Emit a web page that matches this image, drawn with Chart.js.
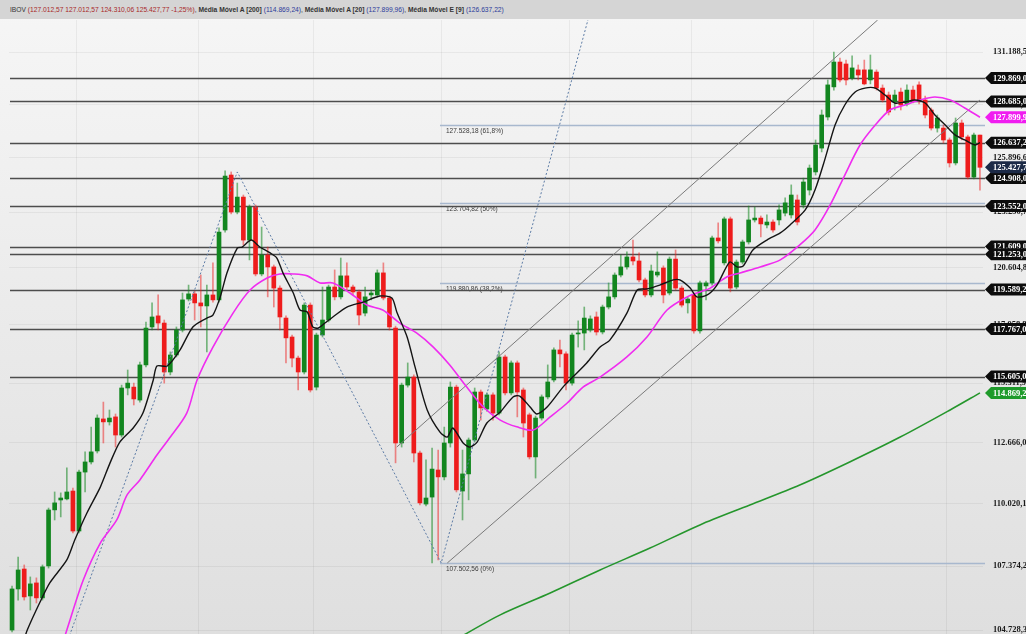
<!DOCTYPE html>
<html>
<head>
<meta charset="utf-8">
<script src="https://cdn.jsdelivr.net/npm/chart.js@4.4.1/dist/chart.umd.min.js"></script>
<style>
  body { margin: 0; background: #ebebeb; overflow: hidden; }
  #wrap { position: relative; width: 1026px; height: 634px; }
  #c { display: block; }
  #hdr {
    position: absolute; left: 0; top: 0; width: 1026px; height: 19px; z-index: 2;
    background: #d5d5d5; box-sizing: border-box; padding-left: 10px;
    font: 7.6px "Liberation Sans Narrow", sans-serif; line-height: 19px;
    white-space: nowrap; color: #333;
  }
  #hdr span.in { display: inline-block; transform: scaleX(0.88); transform-origin: 0 50%; }
  .r { color: #a82828; }
  .b { color: #2b3a9a; }
</style>
</head>
<body>
<div id="wrap">
  <div id="hdr"><span class="in" id="hdrText"></span></div>
  <canvas id="c" width="1026" height="634"></canvas>
</div>
<script>
// daily candles, oldest first
const opens = [104730,106420,107250,106130,106670,106050,107380,109750,110175,110220,
  110560,108850,111380,111820,112300,113710,113580,113800,113000,115090,
  115130,114550,116130,117860,118370,118040,115810,116580,117720,119150,
  119390,118970,118830,119340,119110,122400,125050,123260,123980,121920,
  123500,120320,121210,120650,119660,118270,117400,116440,115810,118870,
  115130,117490,118180,119710,119250,120230,119710,119480,118500,119340,
  119340,120370,119200,117810,112650,115220,115580,112210,110000,110300,
  111470,111170,112650,115130,110560,111300,112780,114910,114150,114780,
  113970,116490,114870,116220,115000,113890,112040,113750,114690,115450,
  116810,116630,115310,117540,117580,117720,118320,117630,118780,119250,
  120270,120650,121120,120930,120040,119340,120270,120600,119430,121020,
  119660,118970,119340,117680,119760,119900,122020,120840,122930,119710,
  120880,121830,122880,122970,122640,122780,122880,123210,123120,123840,
  123600,124320,125200,126370,127910,129420,130680,130580,129870,130280,
  130280,129770,130170,129360,129010,128660,129160,128560,129260,129520,
  128760,128260,127360,127360,126770,125640,127610,126920,124950,127012.57];
const highs = [106540,107750,107420,106920,106880,107420,109830,110520,110480,111560,
  110690,111470,112260,113350,113890,114460,114107,113930,115220,115900,
  115310,116260,118090,118970,119340,118180,116720,117860,119430,119800,
  119520,120270,119800,120840,122500,125250,125200,124660,124080,123600,
  123600,122540,121590,120740,119760,118370,117490,116530,118970,118970,
  117580,119710,119800,120510,121070,120840,119800,119570,119710,119570,
  120510,120840,119290,117900,115310,116220,115680,112300,111910,112430,
  112340,113350,115360,115220,112340,112870,115090,115000,114870,114870,
  116720,116580,116310,116310,115090,113970,113840,114780,116130,116900,
  117260,116720,117580,118140,118780,118370,118550,118870,119900,120370,
  121210,121360,121920,121310,120130,120740,121360,120700,121120,121450,
  119760,119250,119430,119990,119990,122110,122740,123020,123020,120980,
  121920,123550,123500,123070,123120,122880,123600,123940,124570,124080,
  124900,125540,126770,128260,129770,131190,130880,130780,130990,130530,
  130780,131040,130280,129520,129160,129260,129360,129520,129460,129670,
  128960,128360,128010,127510,126870,127860,127760,127010,127110,127012.57];
const lows = [104650,105960,105960,105550,105840,105960,107290,109320,109450,110180,
  108770,108770,110520,111730,112210,112650,113440,112470,112910,114780,
  114330,114460,116040,117720,117720,115310,115680,116490,117630,119060,
  118180,117860,116720,119010,119010,122300,123170,123170,121690,120980,
  120230,120230,119250,118780,117720,116220,116040,115000,115720,114910,
  115000,117400,118090,119110,119150,119570,119340,117950,118370,119110,
  119250,119110,117720,111780,112470,115130,111820,109960,109920,107502.56,
  107630,111040,112470,110520,109320,110180,112690,113660,114060,113660,
  113890,114780,114780,113800,112910,111950,111120,113660,114600,115360,
  116040,115000,115220,116940,116810,117630,117490,117540,118690,119150,
  120180,120550,120740,119950,119250,119250,120180,118970,119340,119570,
  118780,118500,117580,117580,119110,119800,121780,120740,119480,119620,
  120790,121730,122780,122070,122500,122300,122640,123070,122970,122640,
  123450,124080,125050,126180,127760,129260,129670,129520,129770,129770,
  129520,129570,129260,128660,128010,128260,128260,128460,128610,128560,
  127860,127260,127160,126620,125440,125540,126770,124860,124860,124310.06];
const closes = [106420,107210,106090,106630,106050,107340,109746,110050,110260,110520,
  108850,111380,111820,112260,113750,113580,113750,113000,115090,115310,
  114600,116130,117810,118320,118040,115810,116580,117720,119110,119390,
  118970,118830,119340,119110,122300,125000,123260,123980,121920,123500,
  120320,121210,120650,119660,118320,117360,116440,115810,118870,115000,
  117490,118180,119710,119250,120230,119710,119480,118410,119250,119430,
  120370,119200,117860,112650,115220,115580,112210,110050,110260,111510,
  111170,112650,115130,110610,111300,112780,114910,114200,114780,113970,
  116490,114870,116220,114910,113530,112040,113750,114690,115360,116810,
  116630,115310,117490,117580,118270,118230,117630,118780,119250,120270,
  120650,121120,120930,120040,119340,120460,120410,119340,121020,119660,
  118870,119150,117680,119900,119900,122020,121880,122930,119660,120880,
  121830,122880,122970,122690,122780,122400,123360,123700,124080,122780,
  124710,125390,126520,128010,129520,130680,129770,129770,130380,130020,
  129570,130280,129360,128760,128160,129010,128510,129260,128760,128760,
  128010,127360,127860,126770,125640,127610,126920,124950,127015,125427.77];

// indicators, [candle index, value]
const ma200 = [[72.8,104330],[80.2,105350],[88.4,106250],[96.6,107210],[104.8,108130],[113.0,109110],
  [121.2,109960],[129.4,110820],[137.6,111820],[145.9,112910],[154.1,114110],[159,114869.24]];
const ma20 = [[8.2,104120],[9.0,104730],[11.7,106790],[14.5,108340],[17.2,109320],[18.9,110390],[21.0,111040],
  [23.8,112120],[26.0,112910],[28.7,113970],[30.4,115450],[33.0,116940],[36.3,118500],[39.1,119570],
  [41.9,120130],[44.0,120320],[46.2,120320],[48.5,120230],[50.6,119900],[52.7,119900],[55.5,119430],
  [58.3,118870],[60.9,118640],[63.7,118040],[66.5,117580],[69.2,116940],[71.9,116130],[74.7,115130],
  [77.4,114240],[80.2,113660],[82.9,113360],[85.6,113220],[88.4,113800],[91.2,114420],[93.8,115130],
  [96.6,115580],[101.0,116490],[104.3,117400],[107.6,118640],[110.9,119250],[113.0,119480],[114.7,119660],
  [117.4,120180],[119.6,120370],[122.9,120650],[126.2,120980],[129.4,121690],[131.9,122400],[134.4,123600],
  [136.8,125050],[139.3,126520],[141.8,127510],[144.2,128260],[146.7,128510],[149.1,128760],[151.6,128910],
  [154.1,128760],[156.5,128360],[159,127899.96]];
const ema9 = [[1.8,104200],[2.5,104730],[4.6,105880],[6.2,106670],[9.0,107630],[10.3,108470],[12.3,109620],
  [14.5,110730],[16.1,111780],[17.7,112690],[19.9,113310],[21.5,113970],[23.2,115450],[23.8,116080],
  [25.5,116080],[27.6,116810],[29.7,117860],[32.0,118270],[33.0,118410],[34.2,119250],[35.3,120370],
  [37.0,121540],[37.8,121590],[39.3,121920],[40.7,121590],[42.4,121310],[43.5,121070],[44.5,120370],
  [46.2,119430],[47.3,118640],[48.5,118550],[49.4,117860],[50.3,117810],[51.4,118040],[52.7,118320],
  [55.0,118780],[57.7,119010],[60.4,119290],[62.4,119200],[63.2,118550],[64.9,117400],[66.2,116040],
  [68.2,114110],[70.3,113130],[71.5,112910],[72.4,113310],[74.1,112650],[75.2,112470],[76.4,112690],
  [78.0,113530],[80.2,114020],[82.3,114690],[83.4,114730],[85.1,114240],[86.2,113930],[87.9,114240],
  [90.5,115130],[92.1,115580],[94.4,116220],[96.6,116940],[98.2,117260],[101.0,118500],[102.7,119570],
  [104.3,119620],[106.4,119800],[108.6,120040],[109.7,120040],[111.4,119660],[112.5,119250],[114.2,119340],
  [115.8,119800],[117.9,120880],[119.1,120650],[120.1,120690],[121.7,121450],[124.0,121920],[126.2,122260],
  [127.8,122640],[130.3,123360],[131.9,124320],[133.5,125790],[135.2,127510],[136.8,128510],[138.5,129160],
  [140.1,129360],[141.8,129360],[143.4,129010],[145.0,128610],[146.7,128660],[148.3,128760],[150.0,128610],
  [151.6,128010],[153.3,127510],[154.9,127020],[156.5,126770],[158.2,126520],[159,126637.22]];

// drawn studies
const upperChannel = [[63.2,112470],[142.2,132840]];
const lowerChannel = [[71.5,107502.56],[159,128760]];
const fibPath = [[9.0,104200],[37.0,125200],[70.5,107502.56],[94.6,132840]];
const fibStart = 70.3;
const fibValues = [127528.18, 123704.82, 119880.86, 107502.56];
const fibNames = ['61,8%', '50%', '38,2%', '0%'];
const hLevels = [129869.00, 128685.00, 126637.22, 124908.00, 123552.00, 121609.00, 121253.00, 119589.20, 117767.00, 115605.00];

const yTicks = [104728.3, 107374.2, 110020.1, 112666.0, 115311.9, 117958.8, 120604.8, 123250.7, 125896.6, 128542.6, 131188.5];
const vGrid = [10.5, 30.5, 49.5, 70.5, 91.5, 111.5, 131.5, 153.5];
const yMin = 104568, yMax = 132838;

function fmt(v, d = 2) {
  const s = Math.abs(v).toFixed(d).split('.');
  return (v < 0 ? '-' : '') + s[0].replace(/\B(?=(\d{3})+(?!\d))/g, '.') + (s[1] ? ',' + s[1] : '');
}

const n = closes.length;
const last = n - 1;
const chg = (closes[last] / closes[last - 1] - 1) * 100;
document.getElementById('hdrText').innerHTML =
  'IBOV <span class="r">(' + fmt(opens[last]) + ' ' + fmt(highs[last]) + ' ' + fmt(lows[last]) + ' ' +
  fmt(closes[last]) + ' ' + fmt(chg) + '%)</span>, <b>Média Móvel A [200]</b> <span class="b">(' + fmt(ma200[ma200.length - 1][1]) +
  ')</span>, <b>Média Móvel A [20]</b> <span class="b">(' + fmt(ma20[ma20.length - 1][1]) +
  ')</span>, <b>Média Móvel E [9]</b> <span class="b">(' + fmt(ema9[ema9.length - 1][1]) + ')</span>';

const up = '#12861f', down = '#ee1c1c';
const bodyColors = closes.map((c, i) => c >= opens[i] ? up : down);
const wickColors = closes.map((c, i) => c >= opens[i] ? 'rgba(18,134,31,0.55)' : 'rgba(238,28,28,0.5)');
const pts = arr => arr.map(p => ({ x: p[0], y: p[1] }));

const tags = hLevels.map(v => ({ v, c: '#0c0c0c' })).concat([
  { v: closes[last], c: '#1c2a47' },
  { v: ma20[ma20.length - 1][1], c: '#f01cf0' },
  { v: ma200[ma200.length - 1][1], c: '#1e9a2a' }
]);

const studies = {
  id: 'studies',
  beforeDraw(chart) {
    const { ctx, width, height, chartArea: a, scales: { x } } = chart;
    const g = ctx.createLinearGradient(0, 0, 0, height);
    g.addColorStop(0, '#f6f6f6');
    g.addColorStop(1, '#dfdfdf');
    ctx.save();
    ctx.fillStyle = g;
    ctx.fillRect(0, 0, width, height);
    ctx.strokeStyle = 'rgba(0,0,0,0.05)';
    ctx.lineWidth = 1;
    vGrid.forEach(v => {
      const px = Math.round(x.getPixelForValue(v)) + 0.5;
      ctx.beginPath(); ctx.moveTo(px, a.top); ctx.lineTo(px, a.bottom); ctx.stroke();
    });
    ctx.restore();
  },
  beforeDatasetsDraw(chart) {
    const { ctx, chartArea: a, scales: { x, y } } = chart;
    ctx.save();
    ctx.lineWidth = 1.5;
    ctx.strokeStyle = '#a8b8ce';
    ctx.font = '6.5px "Liberation Sans Narrow", sans-serif';
    ctx.textBaseline = 'top';
    const fx = x.getPixelForValue(fibStart);
    fibValues.forEach((v, k) => {
      const py = Math.round(y.getPixelForValue(v)) + 0.5;
      ctx.beginPath(); ctx.moveTo(fx, py); ctx.lineTo(a.right + 2, py); ctx.stroke();
      ctx.fillStyle = '#3a3a3a';
      ctx.fillText(fmt(v) + ' (' + fibNames[k] + ')', fx + 6, py + 2);
    });
    ctx.strokeStyle = '#4d4d4d';
    ctx.lineWidth = 1.3;
    hLevels.forEach(v => {
      const py = Math.round(y.getPixelForValue(v)) + 0.5;
      ctx.beginPath(); ctx.moveTo(a.left + 1, py); ctx.lineTo(a.right + 2, py); ctx.stroke();
    });
    ctx.restore();
  },
  afterDraw(chart) {
    const { ctx, chartArea: a, scales: { y } } = chart;
    ctx.save();
    ctx.font = 'bold 8.5px "Liberation Serif", serif';
    ctx.textBaseline = 'middle';
    tags.forEach(t => {
      const py = y.getPixelForValue(t.v);
      const x0 = a.right + 2;
      ctx.beginPath();
      ctx.moveTo(x0, py);
      ctx.lineTo(x0 + 6, py - 6);
      ctx.lineTo(1026, py - 6);
      ctx.lineTo(1026, py + 6);
      ctx.lineTo(x0 + 6, py + 6);
      ctx.closePath();
      ctx.fillStyle = t.c;
      ctx.fill();
      ctx.fillStyle = '#ffffff';
      ctx.fillText(fmt(t.v), x0 + 8, py + 0.5);
    });
    ctx.restore();
  }
};

new Chart(document.getElementById('c'), {
  type: 'bar',
  data: {
    datasets: [
      { type: 'bar', data: opens.map((o, i) => ({ x: i, y: [lows[i], highs[i]] })), backgroundColor: wickColors,
        barThickness: 1, grouped: false, order: 7 },
      { type: 'bar', data: opens.map((o, i) => ({ x: i, y: [o, closes[i]] })), backgroundColor: bodyColors,
        barThickness: 4, minBarLength: 1, grouped: false, order: 6 },
      { type: 'line', data: pts(upperChannel), borderColor: '#7a7a7a', borderWidth: 1, pointRadius: 0, order: 5 },
      { type: 'line', data: pts(lowerChannel), borderColor: '#7a7a7a', borderWidth: 1, pointRadius: 0, order: 5 },
      { type: 'line', data: pts(fibPath), borderColor: '#5d7ca6', borderWidth: 1, borderDash: [2, 2], pointRadius: 0, order: 5 },
      { type: 'line', data: pts(ma200), borderColor: '#25962c', borderWidth: 1.6, pointRadius: 0, tension: 0.3, order: 3 },
      { type: 'line', data: pts(ma20), borderColor: '#f02cf0', borderWidth: 1.6, pointRadius: 0, tension: 0.3, order: 2 },
      { type: 'line', data: pts(ema9), borderColor: '#141414', borderWidth: 1.4, pointRadius: 0, tension: 0.25, order: 1 }
    ]
  },
  options: {
    responsive: false,
    animation: false,
    layout: { padding: { left: 9, top: 20, right: 0, bottom: 0 } },
    plugins: { legend: { display: false }, tooltip: { enabled: false } },
    scales: {
      x: { type: 'linear', min: -0.5, max: n - 0.5, offset: false, display: false },
      y: {
        type: 'logarithmic', position: 'right', min: yMin, max: yMax,
        afterBuildTicks: s => { s.ticks = yTicks.map(v => ({ value: v })); },
        afterFit: s => { s.width = 43; s.paddingTop = 0; s.paddingBottom = 0; },
        grid: { color: 'rgba(0,0,0,0.05)', drawTicks: false },
        border: { display: false },
        ticks: {
          autoSkip: false, padding: 10, color: '#1a1a1a',
          font: { family: '"Liberation Serif", serif', size: 8.5, weight: 'bold' },
          callback: v => fmt(v)
        }
      }
    }
  },
  plugins: [studies]
});
</script>
</body>
</html>
